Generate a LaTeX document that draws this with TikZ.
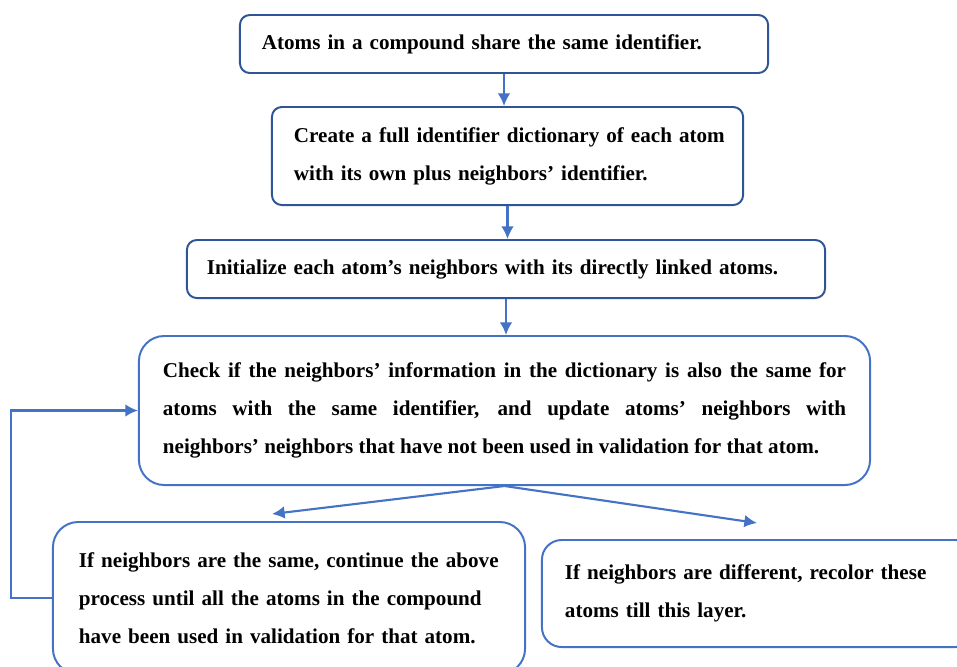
\documentclass[tikz,border=0pt]{standalone}
\usepackage{fontspec}
\setmainfont{Liberation Serif}
\usetikzlibrary{arrows.meta}
\definecolor{boxblue}{RGB}{47,85,151}
\definecolor{flowblue}{RGB}{68,114,196}

\begin{document}
\begin{tikzpicture}[
                     x = 0.025cm,
                     y = -0.025cm,
        stepbox/.style = {draw=boxblue, line width=1.4pt, rounded corners=7pt,
                          fill=white, inner ysep=0pt, align=left,
                          font=\fontsize{15}{27}\selectfont\bfseries},
         bigbox/.style = {stepbox, draw=flowblue, rounded corners=18pt},
           flow/.style = {draw=flowblue, line width=1.5pt, -{Latex[length=9pt,width=9pt]}},
                   ]
\useasboundingbox (0,0) rectangle (957,666);

\node[stepbox, inner xsep=0.55cm, text width=12.1cm, minimum height=1.45cm]
    (atoms) at (504,44) {Atoms in a compound share the same identifier.};
\node[stepbox, inner xsep=0.45cm, text width=10.875cm, minimum height=2.45cm]
    (dict) at (507.5,156) {\hspace*{0.1cm}Create a full identifier dictionary of each atom\\
                           \hspace*{0.1cm}with its own plus neighbors' identifier.};
\node[stepbox, inner xsep=0.5cm, text width=14.95cm, minimum height=1.45cm]
    (init) at (506,269) {Initialize each atom's neighbors with its directly linked atoms.};
\node[bigbox, inner xsep=0.6cm, text width=17.075cm, minimum height=3.725cm, align=justify]
    (check) at (504.5,410.5) {Check if the neighbors' information in the dictionary is also the same for\linebreak
                              atoms with the same identifier, and update atoms' neighbors with\linebreak
                              neighbors' neighbors that have not been used in validation for that atom.};
\node[bigbox, inner xsep=0.55cm, text width=10.7cm, minimum height=3.8cm]
    (same) at (289,598) {\hspace*{0.1cm}If neighbors are the same, continue the above\\
                         \hspace*{0.1cm}process until all the atoms in the compound\\
                         \hspace*{0.1cm}have been used in validation for that atom.};
\node[bigbox, inner xsep=0.575cm, text width=9.675cm, minimum height=2.675cm, rounded corners=14pt]
    (diff) at (758.5,593.5) {If neighbors are different, recolor these\\
                             atoms till this layer.};

% free ends of the two branches
\coordinate (left end)  at (272,514);
\coordinate (right end) at (757,523);

\draw[flow] (atoms.south) -- (atoms.south |- dict.north);
\draw[flow] (dict.south)  -- (dict.south |- init.north);
\draw[flow] (init.south)  -- (init.south |- check.north);
\draw[flow] (check.south) -- (left end);
\draw[flow] (check.south) -- (right end);
\draw[flow] (same.west) -- ++(-41,0) |- (check.west);
\end{tikzpicture}
\end{document}
